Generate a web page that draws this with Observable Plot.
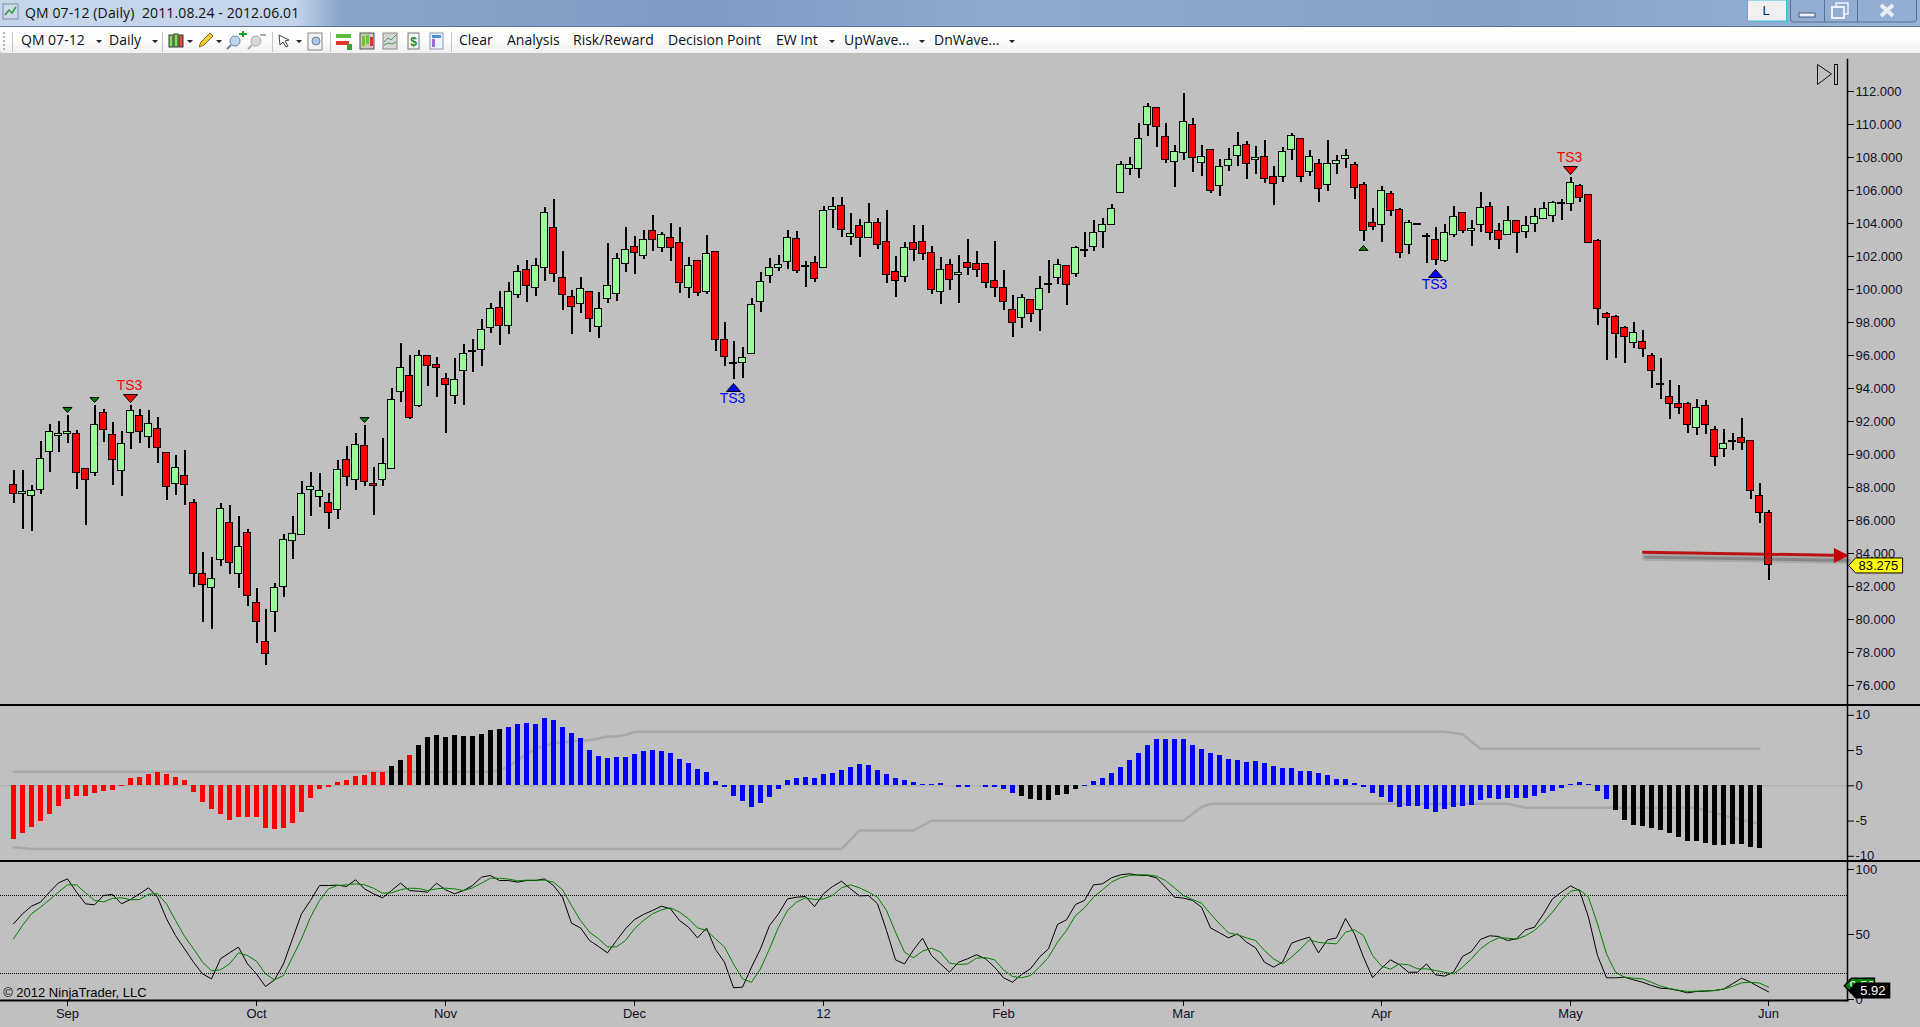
<!DOCTYPE html>
<html><head><meta charset="utf-8">
<script src="https://cdn.jsdelivr.net/npm/d3@7"></script>
<script src="https://cdn.jsdelivr.net/npm/@observablehq/plot@0.6"></script>
<style>
html,body{margin:0;padding:0;background:#c0c0c0;width:1920px;height:1027px;overflow:hidden;font-family:"Liberation Sans",Arial,sans-serif}
#titlebar{position:absolute;left:0;top:0;width:1920px;height:26px;background:linear-gradient(90deg,#c6d6ea 0,#c4d5ea 295px,#8aa5cb 340px,#7f9cc5 700px,#8fa9d0 1000px,#86a2c9 1500px,#9ab2d6 1920px);border-bottom:1px solid #5a7499}
#titlebar span{position:absolute;left:25px;top:3px;font:14px "Open Sans",sans-serif;color:#101010;white-space:pre;letter-spacing:.12px}
#toolbar{position:absolute;left:0;top:27px;width:1920px;height:26px;background:linear-gradient(#fff 0,#fdfdfd 50%,#efefef 100%);border-bottom-left-radius:3px}
.tb{position:absolute;top:3px;font:14px "Open Sans",sans-serif;color:#0a1020;white-space:pre}
.ov{position:absolute;left:0;top:0}
.sep{position:absolute;left:0;width:1920px;height:2px;background:#000}
#charts{position:absolute;left:0;top:54px;width:1920px}
#charts svg{display:block;overflow:visible}
</style></head><body>
<div id="titlebar"><span>QM 07-12 (Daily)  2011.08.24 - 2012.06.01</span></div>
<div id="toolbar">
<div class="tb" style="left:21px">QM 07-12</div><div class="tb" style="left:109px">Daily</div>
<div class="tb" style="left:459px">Clear</div><div class="tb" style="left:507px">Analysis</div>
<div class="tb" style="left:573px">Risk/Reward</div><div class="tb" style="left:668px">Decision Point</div>
<div class="tb" style="left:776px">EW Int</div><div class="tb" style="left:844px">UpWave...</div><div class="tb" style="left:934px">DnWave...</div>
</div>
<svg class="ov" width="1920" height="54" style="pointer-events:none">
<rect x="3" y="4" width="15" height="15" fill="#cfd8e8" stroke="#7f8fa8"/><path d="M5 15l4-5 3 3 4-6" fill="none" stroke="#2a9a3a" stroke-width="1.5"/>
<rect x="1747.5" y="0" width="39" height="21" fill="#f0f0f0" stroke="#36bfe6"/><text x="1766" y="15" font-size="13" text-anchor="middle" fill="#102050" font-family="Liberation Sans">L</text>
<rect x="1790.5" y="-2" width="126" height="24" rx="3" fill="#94aed3" stroke="#56709a"/><path d="M1824.5 0v22M1857.5 0v22" stroke="#56709a"/>
<rect x="1799" y="13" width="16" height="4" fill="#eef2f8" stroke="#4a5a78"/>
<rect x="1836" y="3" width="12" height="11" fill="none" stroke="#eef2f8" stroke-width="1.5"/><rect x="1832" y="7" width="12" height="11" fill="#94aed3" stroke="#eef2f8" stroke-width="2"/>
<path d="M1881 5l12 11M1893 5l-12 11" stroke="#e8edf5" stroke-width="4"/>
<path d="M12.5 32v20M162.5 32v20M272.5 32v20M330.5 32v20M451.5 32v20" stroke="#c4c4c4"/>
<path d="M4 32v18" stroke="#b8b8b8" stroke-width="2" stroke-dasharray="2 2"/>
<path d="M96 40h6l-3 3zM152 40h6l-3 3zM187 40h6l-3 3zM216 40h6l-3 3zM296 40h6l-3 3zM829 40h6l-3 3zM919 40h6l-3 3zM1009 40h6l-3 3z" fill="#222"/>
<g stroke="#333"><rect x="169" y="35" width="4" height="12" fill="#7ee04e"/><rect x="174" y="34" width="4" height="13" fill="#7ee04e"/><rect x="179" y="35" width="4" height="12" fill="#e84a3a"/></g>
<path d="M199 47l2-5 9-9 3 3-9 9z" fill="#f2cf3a" stroke="#8a6a1a"/>
<circle cx="235" cy="41" r="5" fill="#bcd6ee" stroke="#6b7f98"/><path d="M231 45l-4 4" stroke="#6b7f98" stroke-width="2"/><path d="M239 33h3v-2h2v2h3v2h-3v2h-2v-2h-3z" fill="#1aa32a"/>
<circle cx="256" cy="41" r="5" fill="#d8d8d8" stroke="#aaa"/><path d="M252 45l-4 4" stroke="#aaa" stroke-width="2"/><path d="M260 34h6v2h-6z" fill="#aaa"/>
<path d="M279 35l10 5-4 1 3 5-2 1-3-5-3 3z" fill="#fff" stroke="#444"/>
<rect x="308" y="33" width="14" height="17" fill="#f4f4f4" stroke="#888"/><circle cx="316" cy="41" r="4" fill="#a9cbe8" stroke="#6b7f98"/>
<rect x="336" y="34" width="15" height="4" fill="#5cba3c"/><rect x="336" y="41" width="13" height="4" fill="#e03a2a"/><rect x="347" y="44" width="5" height="6" fill="#3f9a3a"/>
<rect x="360" y="33" width="14" height="16" fill="#c8c8c8" stroke="#555"/><rect x="362" y="36" width="3" height="10" fill="#6bc43a"/><rect x="366" y="35" width="3" height="9" fill="#6bc43a"/><rect x="370" y="37" width="3" height="9" fill="#d8342a"/>
<rect x="383" y="33" width="14" height="16" fill="#d6d6d6" stroke="#888"/><path d="M384 42l4-4 3 2 5-5M384 45l4-2 4 1 4-2" fill="none" stroke="#3fa04a"/>
<rect x="408" y="33" width="11" height="16" fill="#f6f6f6" stroke="#777"/><text x="413.5" y="46" font-size="12" font-weight="bold" text-anchor="middle" fill="#1d8a2e" font-family="Liberation Sans">$</text>
<rect x="430" y="33" width="13" height="16" fill="#eef2fa" stroke="#8a9ab8"/><rect x="432" y="35" width="9" height="3" fill="#4a90d8"/><rect x="432" y="39" width="3" height="8" fill="#9a6ad8"/>
</svg>
<svg class="ov" style="top:60px;left:1810px;overflow:visible" width="40" height="30"><path d="M7.5 4.5l14 9.5-14 10.5z" fill="none" stroke="#111"/><rect x="24.5" y="4.5" width="3" height="20" fill="none" stroke="#111"/></svg>
<div id="charts"></div>
<div class="sep" style="top:704px"></div>
<div class="sep" style="top:860px"></div>
<script>
const opens=[88.16,87.62,87.50,87.86,90.14,91.11,91.23,91.25,89.13,88.87,92.53,91.19,89.01,91.31,92.34,91.05,91.56,90.10,88.22,88.71,87.07,82.77,81.92,83.62,85.86,82.77,85.25,81.01,78.65,80.45,81.98,84.77,85.13,87.84,87.44,87.05,86.65,89.68,88.47,90.53,88.22,88.47,89.13,93.78,94.77,92.95,95.98,95.44,94.59,93.56,95.07,96.26,96.35,97.68,98.87,97.80,99.68,101.20,100.10,101.32,103.74,100.71,99.56,99.13,99.86,97.74,99.44,99.74,101.56,102.57,102.04,103.55,102.50,103.13,102.83,100.08,101.74,99.84,102.28,96.95,95.53,95.55,96.08,99.23,100.81,101.31,101.68,103.07,101.41,101.61,101.29,104.81,105.07,103.19,103.86,103.13,104.04,102.89,101.07,100.77,102.83,102.89,102.22,99.86,101.49,100.89,101.61,101.55,101.55,100.52,100.10,98.77,98.28,99.37,98.77,100.32,100.71,101.43,100.95,102.38,102.58,103.49,103.92,105.86,107.32,107.32,109.98,111.01,109.26,107.74,108.29,109.98,107.68,108.47,106.29,107.50,108.10,108.77,107.86,108.04,106.83,106.83,108.47,109.13,107.14,107.62,106.35,107.62,107.92,107.56,106.35,104.04,103.92,105.80,104.83,102.71,103.98,103.26,103.01,101.74,103.32,104.65,103.56,103.92,105.01,103.56,103.32,104.17,103.50,103.98,104.29,104.47,105.26,105.20,106.29,105.74,102.95,98.52,98.34,97.67,96.76,96.83,95.98,94.26,93.49,93.07,93.07,91.61,92.95,91.49,90.34,90.79,91.01,90.83,87.49,86.46];
const highs=[89.03,89.03,88.12,90.77,91.82,92.00,92.36,91.46,89.13,92.97,92.71,91.92,91.38,92.97,92.71,92.67,92.22,90.10,89.92,90.22,87.25,84.04,83.74,87.01,86.89,86.22,85.44,81.86,80.59,82.16,85.13,86.22,88.35,88.89,88.83,87.62,89.62,90.47,91.25,91.74,89.19,90.97,93.98,96.71,95.98,96.28,95.98,95.86,94.89,95.80,96.65,96.95,98.17,99.13,99.88,100.40,101.44,101.74,101.86,104.95,105.44,102.29,99.92,100.71,99.86,99.80,102.77,102.16,103.74,103.20,103.55,104.46,103.43,103.98,103.74,101.92,101.74,103.25,102.28,97.98,96.83,96.46,99.43,101.01,101.86,102.04,103.55,103.49,101.68,101.98,105.01,105.55,105.55,104.58,104.22,105.19,104.28,104.77,101.98,102.83,103.86,103.86,102.58,101.92,101.80,102.04,103.01,102.28,101.55,102.89,101.13,99.61,99.68,99.37,100.77,101.74,101.80,101.43,102.60,103.43,104.16,104.28,105.13,107.74,107.98,110.04,111.26,111.01,110.04,108.71,111.86,110.35,108.71,108.47,107.86,108.53,109.50,108.95,108.65,109.01,107.44,108.59,109.44,109.13,108.41,107.86,109.01,108.10,108.47,107.68,106.47,104.89,106.23,105.92,104.89,104.17,103.98,103.38,103.74,103.92,105.01,104.65,104.17,105.86,105.26,103.98,105.01,104.17,104.41,104.89,105.26,105.32,105.44,106.77,106.35,105.74,103.01,98.58,98.40,97.73,97.98,97.49,96.10,95.79,94.46,94.16,93.13,93.31,93.25,91.67,91.49,91.25,92.16,90.83,88.22,86.58];
const lows=[87.05,85.48,85.36,87.60,88.91,90.14,90.69,87.90,85.72,88.69,90.75,88.14,87.48,90.32,90.69,90.39,89.48,87.23,87.54,86.93,81.96,79.84,79.42,83.23,82.75,81.90,80.81,78.57,77.24,79.23,81.36,83.66,85.13,86.26,86.81,85.48,86.08,88.08,87.84,88.08,86.33,88.08,89.13,93.17,92.14,92.87,94.14,93.48,91.29,93.05,92.99,94.99,95.36,97.36,96.63,97.30,99.48,99.24,99.60,100.51,100.43,98.75,97.30,98.57,97.42,97.05,99.17,99.30,101.03,100.93,101.84,102.30,102.24,101.72,99.78,99.47,99.59,99.72,96.26,95.35,94.56,94.63,96.08,98.62,100.38,101.11,101.23,100.99,100.14,100.44,101.29,103.72,103.17,102.69,101.96,103.13,102.44,100.38,99.53,100.44,101.72,101.78,99.72,99.11,99.96,99.17,100.87,100.75,100.08,99.53,98.75,97.11,97.66,98.02,97.47,99.78,100.32,99.05,100.75,101.96,102.32,102.50,103.92,105.86,106.93,106.75,109.30,108.63,107.66,106.21,107.84,107.11,106.87,105.84,105.66,107.18,107.48,106.69,106.99,106.45,105.12,106.51,107.84,106.51,106.87,105.30,105.96,106.99,107.36,105.48,102.93,103.60,102.87,104.41,101.90,102.15,103.98,101.60,101.48,101.66,103.18,103.42,102.63,103.48,102.99,102.45,103.26,102.21,103.12,103.48,104.23,104.08,104.20,104.75,105.30,102.77,97.84,95.71,95.84,95.53,96.44,95.90,94.02,93.35,92.14,92.44,91.29,91.17,91.23,89.29,89.84,90.26,90.26,87.29,85.84,82.34];
const closes=[87.60,87.74,87.78,89.74,91.38,91.25,91.38,88.87,88.47,91.80,91.50,89.68,90.65,92.65,91.35,91.86,90.39,88.04,89.19,88.16,82.77,82.10,82.47,86.71,83.44,84.41,81.42,79.84,77.92,81.92,84.83,85.19,87.62,88.04,87.80,86.47,89.07,88.65,90.59,88.35,88.10,89.44,93.31,95.25,92.20,95.98,95.37,95.27,94.22,94.53,96.10,96.26,97.54,98.83,97.80,99.86,101.07,100.20,101.44,104.65,100.93,99.68,98.96,100.02,98.22,98.81,100.22,101.86,102.41,102.22,103.01,103.01,103.31,102.50,100.38,101.43,99.80,102.16,96.93,95.92,95.53,95.86,99.07,100.46,101.31,101.49,103.13,101.13,101.41,100.62,104.77,105.01,103.61,103.37,103.11,104.04,102.71,100.89,100.52,102.52,102.40,102.16,99.98,101.19,100.58,101.01,101.31,101.19,100.40,100.10,99.25,97.98,99.49,98.52,100.04,100.32,101.49,100.28,102.52,102.38,103.43,103.92,104.89,107.56,107.56,109.13,111.07,109.86,107.86,108.35,110.17,107.98,108.04,105.98,107.44,107.86,108.71,107.62,107.98,106.71,106.41,108.35,109.32,106.83,108.04,106.10,107.62,107.80,108.10,106.17,103.56,103.80,105.98,104.77,102.23,104.04,103.98,103.26,101.80,103.44,104.41,103.56,103.68,104.95,103.44,103.01,104.17,103.44,103.86,104.41,104.89,105.26,105.26,106.47,105.56,102.83,98.82,98.28,97.31,97.13,97.37,96.40,95.07,94.26,93.07,92.83,91.80,92.83,91.80,89.86,90.64,90.79,90.70,87.80,86.46,83.275];

const macdValues=[-7.56,-6.7,-5.86,-5,-4,-3,-2,-1.47,-1.47,-1.04,-0.76,-0.6,-0.1,1.04,1.18,1.6,1.9,1.6,1.18,0.76,-0.9,-2.3,-3.3,-4,-4.87,-4.44,-4.44,-4.44,-6,-6.15,-6.05,-5.3,-3.74,-1.75,-0.47,-0.19,0.47,0.76,1.32,1.47,1.9,1.9,2.74,3.6,4.3,5.72,6.86,7.14,6.86,7.14,7,7,7.28,7.85,8,8.27,8.7,8.84,8.7,9.55,9.27,8.27,7.42,6.71,5,4.16,3.88,4,4,4.44,4.87,5,4.87,4.59,3.74,3.17,2.32,1.9,0.6,-0.24,-1.5,-2.2,-3.07,-2.5,-1.65,-0.5,0.76,1.04,1.18,1.04,1.6,1.75,2.17,2.6,3.03,2.88,2.17,1.6,1.04,0.76,0.47,0.19,0.19,0.28,0,-0.24,-0.24,0,-0.24,-0.24,-0.5,-1.09,-1.5,-1.94,-2.08,-2.08,-1.37,-1.23,-0.5,-0.1,0.6,1.04,1.75,2.6,3.6,4.59,5.72,6.57,6.57,6.57,6.57,5.72,5.15,4.59,4.3,3.74,3.6,3.31,3.45,3.17,2.74,2.46,2.46,2.03,2.03,1.75,1.47,0.9,0.9,0.33,-0.24,-1.09,-1.65,-2.36,-3.07,-2.93,-2.93,-3.36,-3.78,-3.36,-3.07,-2.93,-2.79,-2.08,-1.8,-1.94,-1.8,-1.8,-1.8,-1.5,-1.09,-0.8,-0.38,0.14,0.47,0.19,-0.8,-1.94,-3.5,-4.87,-5.63,-5.77,-6.05,-6.34,-6.76,-7.33,-7.9,-7.9,-8.18,-8.46,-8.46,-8.32,-8.32,-8.75,-8.89];
const macdColorRuns=[["red",42],["black",2],["red",1],["black",10],["blue",57],["black",7],["blue",59],["black",17]];
const bandUpperIdx=[0,53,54,55,56,57,58,59,60,61,62,63,64,65,66,67,68,69,159,161,163,194];
const bandUpperVal=[1.98,1.98,2.2,2.8,3.6,4.5,5.2,5.7,6,6.2,6.3,6.38,6.45,6.7,7,7,7.2,7.66,7.66,7.3,5.25,5.25];
const bandLowerIdx=[0,2,92,94,100,102,130,132,133,166,168,187,190,194];
const bandLowerVal=[-8.7,-8.98,-8.98,-6.34,-6.34,-4.96,-4.96,-3,-2.55,-2.55,-3.12,-3.12,-4.2,-5.39];

const stochK=[58.2,65.9,71.8,74.9,82.6,89.7,92.8,82.6,73.6,72.8,80,80.8,73.6,76.9,81.3,85.9,78.7,62.1,49.2,39,28.7,19.7,15.9,31.3,35.9,40.3,27.4,19.7,10,15.1,27.4,46.7,65.9,76.2,87.7,87.7,88,86.9,92.1,85.1,81.3,78.2,83.8,89.5,83.8,83.3,82.6,89.5,84.4,81.3,83.8,87.7,94.1,95.4,91.5,91.5,90.3,91.5,91.5,92.8,87.7,78.7,58.7,55.1,45.4,40.8,35.9,45.4,54.4,61.5,65.4,68.5,71.8,69.7,60.8,55.6,47.4,54.9,38.5,28.7,9,9.5,24.9,39,56.9,65.9,77.4,78.7,79.2,71.5,81.3,86.9,91,85.1,79.7,80,73.6,53.1,30.5,27.4,38.2,47.2,33.8,27.4,21,28.7,31.3,34.4,31.3,24.9,16.7,13.3,19.2,23.6,32.6,39,57.7,61.3,73.1,76.2,88.2,89,93.6,95.9,96.7,95.6,95.4,93.6,86.4,78.7,78,76.2,71,55.1,51.3,47.4,50.5,44.1,39.8,28.7,24.9,28.7,43.3,45.9,48,35.9,45.9,47.4,62.3,50.5,32.6,16.7,24.1,30.5,26.7,21,21,27.4,19,18,21,33.1,36.9,46.2,49,48.5,45.4,46.7,53.6,55.6,65.9,77.4,82.6,87.4,83.8,63.3,33.8,16.7,16.7,17.2,15.1,13.3,10.8,8.7,8.2,6.9,5.1,6.2,6.4,6.9,8,12.1,16.4,13.3,9.5,5.92];
const stochD=[46.7,56.9,65.9,71,76.7,82.6,88.2,88.2,82.1,76.2,75.1,77.7,78.2,76.7,76.9,81,81.3,73.6,60.8,48.7,39,28.7,22.1,22.8,27.4,35.9,33.8,29.5,19.7,15.1,18.5,32.6,46.7,63.3,76.2,85.1,87.7,88.2,89,88.2,85.6,81.8,82.1,84.4,85.6,85.4,83.8,85.1,85.6,85.1,83.8,85.9,89.5,93.3,93.3,92.6,91.3,91.8,91.8,91.8,90.3,84.4,72.3,60.8,51.8,46.7,40.5,40.5,45.4,54.4,60.8,65.9,69,70.5,67.2,62.1,55.1,53.1,46.7,40.3,27.4,15.9,13.3,23.6,39,55.6,68.5,74.9,78.2,76.9,77.4,80,85.9,88.2,85.9,82.6,78.7,68.5,51.8,36.4,32.1,37.2,39.5,36.4,28,26.9,27.4,31.8,32.3,30.5,22.8,17.7,16.7,18.5,24.9,32.6,44.1,53.1,64.6,70.5,78.7,84.4,90.3,93.6,95.4,95.9,95.9,94.9,91.5,85.9,80,76.9,74.1,65.9,58.2,51.3,49.8,47.4,45.4,37.7,31.3,27.4,32.6,39,45.9,43.9,43.3,42.8,51.8,53.6,49.2,33.8,25.7,23.3,27.4,26.7,23.6,23.6,22.3,21,19.7,24.9,31.3,39,44.1,47.4,47.2,46.4,49,53.1,59.5,67.2,76.2,83.3,84.4,78.7,58.2,35.1,21,17.2,16.4,15.9,13.3,10.3,8.5,7.2,6.2,6.4,6.7,6.9,8,10,12.8,13.3,12.6,9.5];

const monthTickIdx=[6,27,48,69,90,110,130,152,173,195];
const monthTickLabels=["Sep","Oct","Nov","Dec","12","Feb","Mar","Apr","May","Jun"];
const priceTicks=d3.range(76,113,2);
const macdTicks=[-10,-5,0,5,10];
const stochTicks=[0,50,100];
const stochLevels=[20,80];
const lastClose=83.275, lastK=5.92, lastD=9.5;
const signalsBig=[{i:13,p:93.39,c:"red",dir:"down",tp:94.18},{i:80,p:94.06,c:"blue",dir:"up",tp:93.39},{i:158,p:100.97,c:"blue",dir:"up",tp:100.30},{i:173,p:107.21,c:"red",dir:"down",tp:107.98}];
const signalsSmall=[{i:6,p:92.70,dir:"down"},{i:9,p:93.30,dir:"down"},{i:39,p:92.09,dir:"down"},{i:150,p:102.52,dir:"up"}];
const arrowIdx=[181.1,203.6], arrowPrice=[84.08,83.88];

const ff='"Liberation Sans",Arial,sans-serif';
const xScale={type:"linear",domain:[-13/9,1834/9],range:[0,1847]};
const styleBase={background:"transparent",fontFamily:ff,fontSize:"13px",color:"#000"};
const tri=(w,h,up)=>({draw(c){const s=up?-1:1;c.moveTo(-w/2,-s*h/2);c.lineTo(w/2,-s*h/2);c.lineTo(0,s*h/2);c.closePath();}});
const tag=(w,h)=>({draw(c){c.moveTo(-w/2,0);c.lineTo(-w/2+7,-h/2);c.lineTo(w/2,-h/2);c.lineTo(w/2,h/2);c.lineTo(-w/2+7,h/2);c.closePath();}});
const headRight={draw(c){c.moveTo(-7.5,-7.5);c.lineTo(7.5,0);c.lineTo(-7.5,7.5);c.closePath();}};

const candles=opens.map((o,i)=>({i,o,h:highs[i],l:lows[i],c:closes[i]}));
const bodies=candles.filter(d=>d.o!==d.c), dojis=candles.filter(d=>d.o===d.c);
const macdColors=macdColorRuns.flatMap(([c,n])=>Array(n).fill(c));
const macd=macdValues.map((v,i)=>({i,v,c:macdColors[i]}));
const upper=bandUpperIdx.map((i,k)=>({i,v:bandUpperVal[k]}));
const lower=bandLowerIdx.map((i,k)=>({i,v:bandLowerVal[k]}));
const kLine=stochK.map((v,i)=>({i,v})), dLine=stochD.map((v,i)=>({i,v}));
const arrowLine=arrowIdx.map((i,k)=>({i,p:arrowPrice[k]}));

const main=Plot.plot({
  width:1920,height:651,marginLeft:0,marginRight:73,marginTop:5,marginBottom:0,style:styleBase,
  x:{...xScale,axis:null},
  y:{domain:[76,112],range:[631,37]},
  color:{type:"identity"},
  marks:[
    Plot.axisY({anchor:"right",ticks:priceTicks,tickFormat:d3.format(".3f"),label:null,tickSize:6,tickPadding:2,fontSize:13,fill:"#101028"}),
    Plot.ruleX(candles,{x:"i",y1:"l",y2:"h",stroke:"#000",strokeWidth:2,shapeRendering:"crispEdges"}),
    Plot.rect(bodies,{x1:d=>d.i-.36,x2:d=>d.i+.36,y1:"o",y2:"c",fill:d=>d.c>d.o?"#98fb98":"#ff0000",stroke:"#000",strokeWidth:1,shapeRendering:"crispEdges"}),
    Plot.ruleY(dojis,{x1:d=>d.i-.42,x2:d=>d.i+.42,y:"c",stroke:"#000",strokeWidth:2,shapeRendering:"crispEdges"}),
    Plot.dot(signalsBig.filter(d=>d.dir==="down"),{x:"i",y:"p",symbol:tri(14,8,false),fill:"c",stroke:"#000",strokeWidth:1}),
    Plot.dot(signalsBig.filter(d=>d.dir==="up"),{x:"i",y:"p",symbol:tri(14,8,true),fill:"c",stroke:"#000",strokeWidth:1}),
    Plot.dot(signalsSmall.filter(d=>d.dir==="down"),{x:"i",y:"p",symbol:tri(9,5,false),fill:"#008000",stroke:"#000",strokeWidth:1}),
    Plot.dot(signalsSmall.filter(d=>d.dir==="up"),{x:"i",y:"p",symbol:tri(9,5,true),fill:"#008000",stroke:"#000",strokeWidth:1}),
    Plot.text(signalsBig,{x:"i",y:"tp",text:()=>"TS3",fill:"c",fontSize:14,dx:-1}),
    Plot.line(arrowLine,{x:"i",y:"p",stroke:"#555",strokeWidth:7,strokeOpacity:.22,dx:2,dy:5}),
    Plot.line(arrowLine,{x:"i",y:"p",stroke:"#444",strokeWidth:3,strokeOpacity:.35,dx:2,dy:5}),
    Plot.line(arrowLine,{x:"i",y:"p",stroke:"#b80000",strokeOpacity:.9,strokeWidth:3}),
    Plot.dot([{i:203.1,p:83.88}],{x:"i",y:"p",symbol:headRight,fill:"#c40000"}),
    Plot.dot([{i:206.9,p:lastClose}],{x:"i",y:"p",symbol:tag(54,15),fill:"#ffff00",stroke:"#000",strokeWidth:1}),
    Plot.text([{i:207.2,p:lastClose,t:lastClose.toFixed(3)}],{x:"i",y:"p",text:"t",fill:"#000",fontSize:13}),
    Plot.frame({anchor:"right",stroke:"#000",strokeWidth:1.5})
  ]
});

const macdPlot=Plot.plot({
  width:1920,height:156,marginLeft:0,marginRight:73,marginTop:0,marginBottom:0,style:styleBase,
  x:{...xScale,axis:null},
  y:{domain:[-10,10],range:[150.8,9.8]},
  color:{type:"identity"},
  marks:[
    Plot.axisY({anchor:"right",ticks:macdTicks,tickFormat:d=>String(d),label:null,tickSize:6,tickPadding:2,fontSize:13,fill:"#101028"}),
    Plot.ruleY([0],{stroke:"#a8a8a8",strokeWidth:1}),
    Plot.line(upper,{x:"i",y:"v",stroke:"#a9a9a9",strokeWidth:2.5}),
    Plot.line(lower,{x:"i",y:"v",stroke:"#a9a9a9",strokeWidth:2.5}),
    Plot.ruleX(macd,{x:"i",y1:0,y2:"v",stroke:"c",strokeWidth:5,shapeRendering:"crispEdges"}),
    Plot.frame({anchor:"right",stroke:"#000",strokeWidth:1.5})
  ]
});

const stochPlot=Plot.plot({
  width:1920,height:166,marginLeft:0,marginRight:73,marginTop:0,marginBottom:27,style:styleBase,
  x:{...xScale,axis:null},
  y:{domain:[0,100],range:[138,8]},
  color:{type:"identity"},
  marks:[
    Plot.axisY({anchor:"right",ticks:stochTicks,tickFormat:d=>String(d),label:null,tickSize:6,tickPadding:2,fontSize:13,fill:"#101028"}),
    Plot.axisX({anchor:"bottom",ticks:monthTickIdx,tickFormat:d=>monthTickLabels[monthTickIdx.indexOf(d)],label:null,tickSize:6,tickPadding:2,fontSize:13,fill:"#101028"}),
    Plot.ruleY(stochLevels,{stroke:"#000",strokeWidth:1,strokeDasharray:"1 1"}),
    Plot.line(kLine,{x:"i",y:"v",stroke:"#000",strokeWidth:1}),
    Plot.line(dLine,{x:"i",y:"v",stroke:"#008000",strokeWidth:1}),
    Plot.text(["© 2012 NinjaTrader, LLC"],{x:-1.15,y:5.2,text:d=>d,textAnchor:"start",fill:"#000",fontSize:13}),
    Plot.frame({anchor:"bottom",stroke:"#000",strokeWidth:2}),
    Plot.frame({anchor:"right",stroke:"#000",strokeWidth:1.5}),
    Plot.dot([{i:205.1,v:10.5}],{x:"i",y:"v",symbol:tag(30,15),fill:"#008000",stroke:"#000"}),
    Plot.text([{i:205.4,v:10.5,t:lastD.toFixed(2)}],{x:"i",y:"v",text:"t",fill:"#fff",fontSize:13}),
    Plot.dot([{i:206.2,v:lastK+1}],{x:"i",y:"v",symbol:tag(42,16),fill:"#000"}),
    Plot.text([{i:206.6,v:lastK+1,t:lastK.toFixed(2)}],{x:"i",y:"v",text:"t",fill:"#fff",fontSize:13})
  ]
});

const host=document.getElementById("charts");
host.append(main,macdPlot,stochPlot);
</script>
</body></html>
